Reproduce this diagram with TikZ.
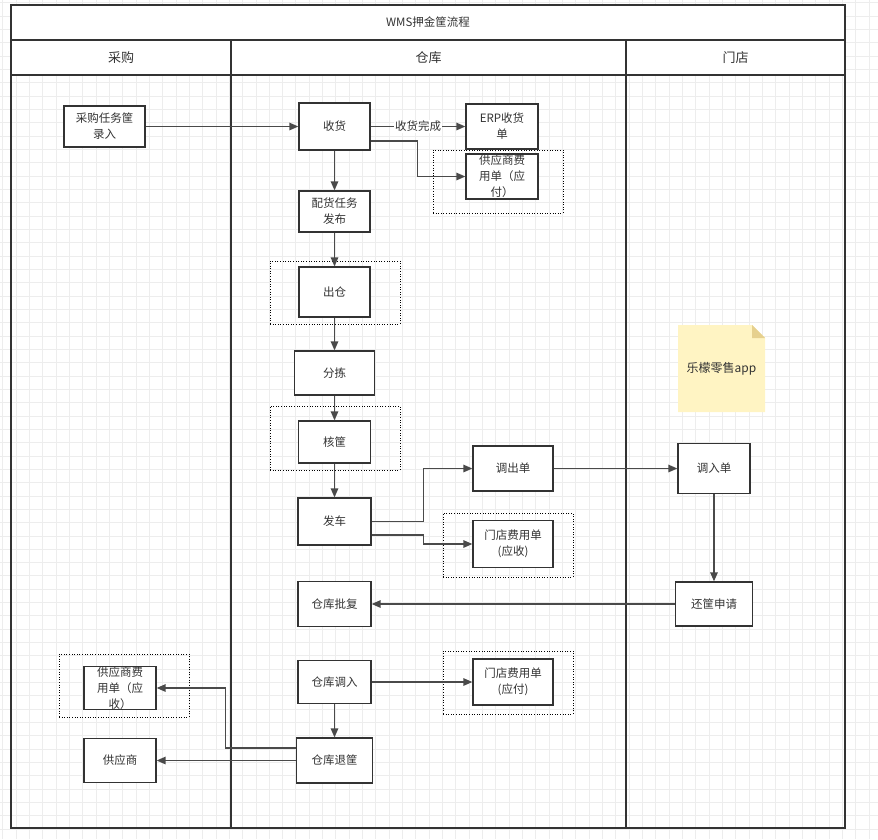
\documentclass[tikz,border=0pt]{standalone}
\usepackage{fontspec}
\setmainfont{Noto Sans CJK SC}
\usetikzlibrary{arrows.meta}
\definecolor{lijnkleur}{HTML}{333333}
\definecolor{pijlkleur}{HTML}{4A4A4A}
\definecolor{rasterkleur}{HTML}{EDEDED}
\definecolor{notitiegeel}{HTML}{FFF4C3}
\definecolor{vouwgeel}{HTML}{E6D08E}

\begin{document}
\begin{tikzpicture}[x=1pt, y=-1pt,
    vak/.style={draw=lijnkleur, line width=1.3pt, fill=white, align=center, inner sep=0pt, text=lijnkleur, font=\fontsize{11.5}{16}\selectfont},
    kader/.style={draw=black, line width=0.9pt, dash pattern=on 1pt off 1.6pt, inner sep=0pt},
    pijl/.style={draw=pijlkleur, line width=1.4pt, -{Triangle[length=9pt, width=7.5pt]}},
    baan/.style={draw=lijnkleur, line width=1.7pt},
    kop/.style={text=lijnkleur, font=\fontsize{13}{15}\selectfont}]
    \useasboundingbox (0,0) rectangle (878,839);

    % Achtergrondraster
    \foreach \k in {0,...,65} {
        \draw[rasterkleur, line width=1pt] (2.67+\k*13.333, 0) -- (2.67+\k*13.333, 839);
    }
    \foreach \k in {0,...,62} {
        \draw[rasterkleur, line width=1pt] (0, 2.67+\k*13.333) -- (878, 2.67+\k*13.333);
    }

    % Zwembanen met titel en koppen
    \fill[white] (11,5) rectangle (845,75);
    \draw[baan] (11,5) rectangle (845,828);
    \draw[baan] (11,40) -- (845,40);
    \draw[baan] (11,75) -- (845,75);
    \draw[baan] (231,40) -- (231,828);
    \draw[baan] (626,40) -- (626,828);
    \node[kop, font=\fontsize{11.5}{14}\selectfont] (titel) at (428,22.5) {WMS押金筐流程};
    \node[kop] (inkoop) at (121,57.5) {采购};
    \node[kop] (magazijn) at (428.5,57.5) {仓库};
    \node[kop] (winkel) at (735.5,57.5) {门店};

    % Gestippelde kaders
    \node[kader, minimum width=130pt, minimum height=63pt] (kader1) at (498,181.5) {};
    \node[kader, minimum width=130pt, minimum height=63pt] (kader2) at (335,292.5) {};
    \node[kader, minimum width=130pt, minimum height=64pt] (kader3) at (335,438) {};
    \node[kader, minimum width=130pt, minimum height=64pt] (kader4) at (508,545) {};
    \node[kader, minimum width=130pt, minimum height=63pt] (kader5) at (508,682.5) {};
    \node[kader, minimum width=130pt, minimum height=63pt] (kader6) at (124,685.5) {};

    % Notitie (geel blaadje met omgevouwen hoek)
    \fill[notitiegeel] (678,325) -- (752,325) -- (765,338) -- (765,412) -- (678,412) -- cycle;
    \fill[vouwgeel] (752,325) -- (765,338) -- (752,338) -- cycle;
    \node[text=lijnkleur, font=\fontsize{12}{14}\selectfont] (app) at (721.5,368.5) {乐檬零售app};

    % Stappen
    \node[vak, minimum width=81pt, minimum height=41pt] (taak) at (104.5,126.5) {采购任务筐\\录入};
    \node[vak, minimum width=71pt, minimum height=47pt] (ontvangst) at (334.5,126.5) {收货};
    \node[vak, minimum width=72pt, minimum height=45pt] (erp) at (502,126.5) {ERP收货\\单};
    \node[vak, minimum width=72pt, minimum height=45pt] (levkosten) at (502,176.5) {供应商费\\用单（应\\付）};
    \node[vak, minimum width=71pt, minimum height=41pt] (distributie) at (334.5,211.5) {配货任务\\发布};
    \node[vak, minimum width=71pt, minimum height=50pt] (uitgang) at (334.5,292) {出仓};
    \node[vak, minimum width=80pt, minimum height=44pt] (sorteren) at (334.5,373) {分拣};
    \node[vak, minimum width=72pt, minimum height=42pt] (controle) at (334.5,442) {核筐};
    \node[vak, minimum width=73pt, minimum height=47pt] (vertrek) at (334.5,521.5) {发车};
    \node[vak, minimum width=80pt, minimum height=45pt] (uitgaand) at (513,468.5) {调出单};
    \node[vak, minimum width=80pt, minimum height=47pt] (winkelkosten1) at (513,544) {门店费用单\\(应收)};
    \node[vak, minimum width=72pt, minimum height=50pt] (inkomend) at (714,468.5) {调入单};
    \node[vak, minimum width=77pt, minimum height=44pt] (retour) at (714,604) {还筐申请};
    \node[vak, minimum width=73pt, minimum height=45pt] (goedkeuring) at (334.5,604) {仓库批复};
    \node[vak, minimum width=73pt, minimum height=43pt] (magazijnin) at (334.5,682) {仓库调入};
    \node[vak, minimum width=80pt, minimum height=46pt] (winkelkosten2) at (513,682) {门店费用单\\(应付)};
    \node[vak, minimum width=76pt, minimum height=45pt] (magazijnretour) at (334.5,760.5) {仓库退筐};
    \node[vak, minimum width=72pt, minimum height=42pt] (levkosten2) at (120,688) {供应商费\\用单（应\\收）};
    \node[vak, minimum width=72pt, minimum height=44pt] (leverancier) at (120,760.5) {供应商};

    % Verbindingen
    \draw[pijl] (taak) -- (ontvangst);
    \draw[pijl] (ontvangst) -- node[fill=white, inner sep=1pt, text=lijnkleur, font=\fontsize{11.5}{13}\selectfont] {收货完成} (erp);
    \draw[pijl] ([yshift=-14.5pt]ontvangst.east) -- ++(47,0) |- (levkosten);
    \draw[pijl] (ontvangst) -- (distributie);
    \draw[pijl] (distributie) -- (uitgang);
    \draw[pijl] (uitgang) -- (sorteren);
    \draw[pijl] (sorteren) -- (controle);
    \draw[pijl] (controle) -- (vertrek);
    \draw[pijl] (vertrek.east) -- ++(52,0) |- (uitgaand);
    \draw[pijl] ([yshift=-13.5pt]vertrek.east) -- ++(52,0) |- (winkelkosten1);
    \draw[pijl] (uitgaand) -- (inkomend);
    \draw[pijl] (inkomend) -- (retour);
    \draw[pijl] (retour) -- (goedkeuring);
    \draw[pijl] (magazijnin) -- (winkelkosten2);
    \draw[pijl] (magazijnin) -- (magazijnretour);
    \draw[pijl] ([yshift=12.5pt]magazijnretour.west) -- ++(-70.5,0) |- (levkosten2);
    \draw[pijl] (magazijnretour) -- (leverancier);
\end{tikzpicture}
\end{document}
